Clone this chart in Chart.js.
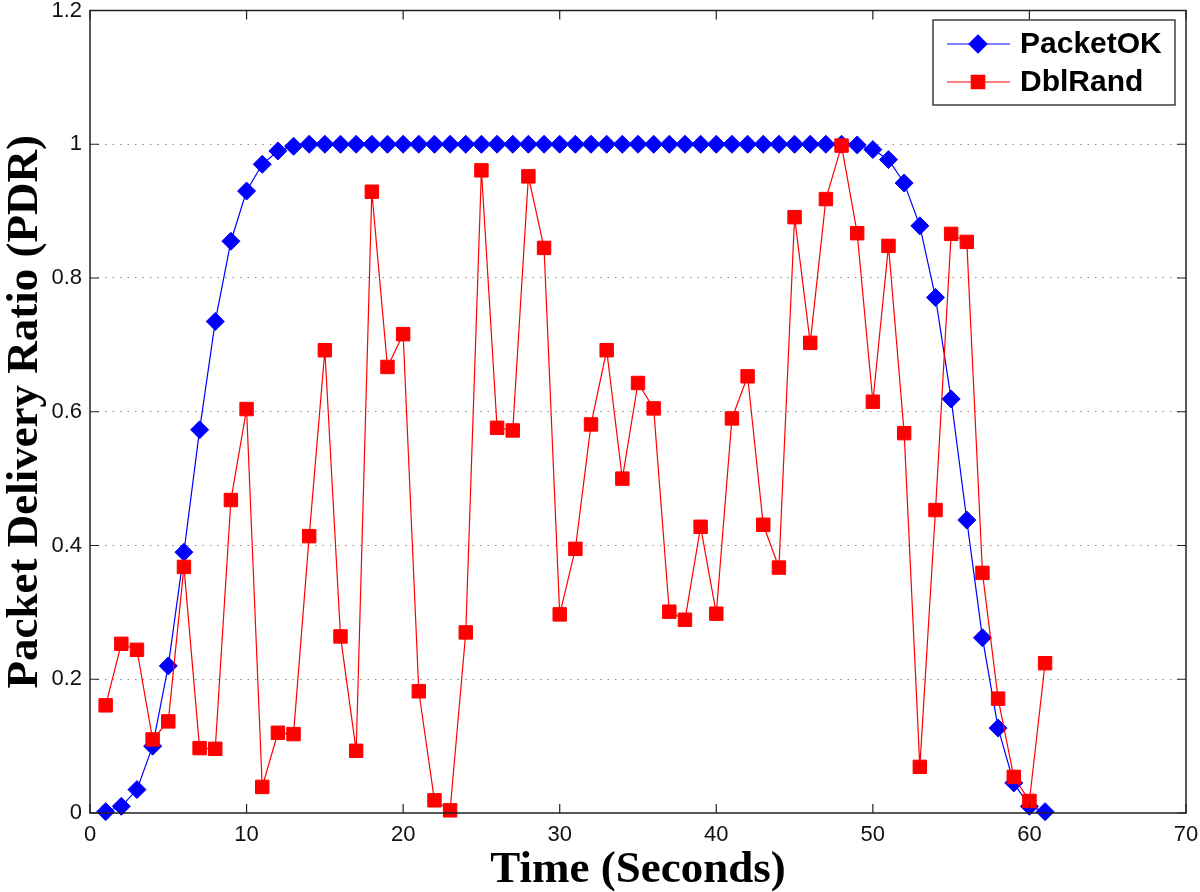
<!DOCTYPE html>
<html lang="en">
<head>
    <meta charset="UTF-8">
    <title>Packet Delivery Ratio</title>
    <script src="https://cdn.jsdelivr.net/npm/chart.js@4.4.1/dist/chart.umd.min.js"></script>
    <style>
        body {
            margin: 0;
            background: #fff;
        }
        canvas {
            display: block;
        }
    </style>
</head>
<body>
    <canvas id="pdrChart" width="1200" height="892"></canvas>

    <script>
        // time in seconds
        const seconds = [1, 2, 3, 4, 5, 6, 7, 8, 9, 10, 11, 12, 13, 14, 15, 16, 17, 18, 19, 20,
            21, 22, 23, 24, 25, 26, 27, 28, 29, 30, 31, 32, 33, 34, 35, 36, 37, 38, 39, 40,
            41, 42, 43, 44, 45, 46, 47, 48, 49, 50, 51, 52, 53, 54, 55, 56, 57, 58, 59, 60, 61];

        const packetOK = [0.002, 0.010, 0.035, 0.100, 0.220, 0.390, 0.573, 0.735, 0.855, 0.930,
            0.970, 0.990, 0.997, 1, 1, 1, 1, 1, 1, 1,
            1, 1, 1, 1, 1, 1, 1, 1, 1, 1,
            1, 1, 1, 1, 1, 1, 1, 1, 1, 1,
            1, 1, 1, 1, 1, 1, 1, 1, 0.999, 0.992,
            0.977, 0.942, 0.878, 0.771, 0.619, 0.438, 0.262, 0.127, 0.045, 0.010, 0.002];

        const dblRand = [0.161, 0.253, 0.244, 0.110, 0.137, 0.368, 0.097, 0.096, 0.468, 0.604,
            0.039, 0.120, 0.118, 0.414, 0.692, 0.264, 0.093, 0.929, 0.667, 0.716,
            0.182, 0.019, 0.004, 0.270, 0.961, 0.576, 0.572, 0.952, 0.845, 0.297,
            0.395, 0.581, 0.692, 0.500, 0.643, 0.605, 0.301, 0.289, 0.428, 0.298,
            0.590, 0.653, 0.431, 0.367, 0.891, 0.703, 0.918, 0.998, 0.867, 0.615,
            0.848, 0.568, 0.069, 0.453, 0.866, 0.854, 0.359, 0.171, 0.054, 0.018, 0.224];

        const xTicks = [0, 10, 20, 30, 40, 50, 60, 70];
        const yTicks = [0, 0.2, 0.4, 0.6, 0.8, 1, 1.2];

        const tickFont = { family: '"Liberation Sans", Arial, sans-serif', size: 22 };

        // matlab style box, inward ticks, axis titles and legend
        const matlabAxes = {
            id: 'matlabAxes',
            afterDraw(chart) {
                const ctx = chart.ctx;
                const area = chart.chartArea;
                const xs = chart.scales.x;
                const ys = chart.scales.y;
                const tickLen = 9;

                ctx.save();
                ctx.strokeStyle = '#222';
                ctx.lineWidth = 1.5;
                ctx.strokeRect(area.left, area.top, area.right - area.left, area.bottom - area.top);

                ctx.lineWidth = 1.2;
                ctx.beginPath();
                xTicks.forEach(v => {
                    const px = xs.getPixelForValue(v);
                    ctx.moveTo(px, area.bottom);
                    ctx.lineTo(px, area.bottom - tickLen);
                    ctx.moveTo(px, area.top);
                    ctx.lineTo(px, area.top + tickLen);
                });
                yTicks.forEach(v => {
                    const py = ys.getPixelForValue(v);
                    ctx.moveTo(area.left, py);
                    ctx.lineTo(area.left + tickLen, py);
                    ctx.moveTo(area.right, py);
                    ctx.lineTo(area.right - tickLen, py);
                });
                ctx.stroke();

                // axis titles
                ctx.fillStyle = '#000';
                ctx.font = 'bold 45px "Liberation Serif", "Times New Roman", serif';
                ctx.textAlign = 'center';
                ctx.textBaseline = 'alphabetic';
                ctx.fillText('Time (Seconds)', (area.left + area.right) / 2, 882);

                ctx.save();
                ctx.translate(37, (area.top + area.bottom) / 2);
                ctx.rotate(-Math.PI / 2);
                ctx.fillText('Packet Delivery Ratio (PDR)', 0, 0);
                ctx.restore();

                // legend
                const box = { left: 933, top: 20, right: 1175, bottom: 105 };
                ctx.fillStyle = '#fff';
                ctx.fillRect(box.left, box.top, box.right - box.left, box.bottom - box.top);
                ctx.strokeStyle = '#222';
                ctx.lineWidth = 1.3;
                ctx.strokeRect(box.left, box.top, box.right - box.left, box.bottom - box.top);

                const rows = [44, 82];
                chart.data.datasets.forEach((ds, i) => {
                    const y = rows[i];
                    ctx.strokeStyle = ds.borderColor;
                    ctx.lineWidth = ds.borderWidth;
                    ctx.beginPath();
                    ctx.moveTo(947, y);
                    ctx.lineTo(1010, y);
                    ctx.stroke();
                    ctx.fillStyle = ds.pointBackgroundColor;
                    ctx.strokeStyle = ds.pointBorderColor;
                    Chart.helpers.drawPoint(ctx, {
                        pointStyle: ds.pointStyle,
                        radius: ds.pointRadius,
                        borderWidth: 1,
                        rotation: 0
                    }, 978, y);
                    ctx.fillStyle = '#000';
                    ctx.font = 'bold 30px "Liberation Sans", Arial, sans-serif';
                    ctx.textAlign = 'left';
                    ctx.textBaseline = 'middle';
                    ctx.fillText(ds.label, 1020, y + 1);
                });
                ctx.restore();
            }
        };

        const ctx = document.getElementById('pdrChart').getContext('2d');
        new Chart(ctx, {
            type: 'line',
            data: {
                labels: seconds,
                datasets: [
                    {
                        label: 'PacketOK',
                        data: seconds.map((s, i) => ({ x: s, y: packetOK[i] })),
                        borderColor: '#0000ff',
                        backgroundColor: '#0000ff',
                        pointBackgroundColor: '#0000ff',
                        pointBorderColor: '#0000ff',
                        pointStyle: 'rectRot',
                        pointRadius: 9,
                        pointBorderWidth: 1,
                        borderWidth: 1.2,
                        tension: 0,
                        fill: false,
                        clip: false,
                        order: 1
                    },
                    {
                        label: 'DblRand',
                        data: seconds.map((s, i) => ({ x: s, y: dblRand[i] })),
                        borderColor: '#ff0000',
                        backgroundColor: '#ff0000',
                        pointBackgroundColor: '#ff0000',
                        pointBorderColor: '#ff0000',
                        pointStyle: 'rect',
                        pointRadius: 9.5,
                        pointBorderWidth: 1,
                        borderWidth: 1.2,
                        tension: 0,
                        fill: false,
                        clip: false,
                        order: 0
                    }
                ]
            },
            options: {
                responsive: false,
                animation: false,
                layout: {
                    padding: { top: 9, right: 14, left: 0, bottom: 0 }
                },
                plugins: {
                    legend: { display: false },
                    tooltip: { enabled: false }
                },
                scales: {
                    x: {
                        type: 'linear',
                        min: 0,
                        max: 70,
                        afterFit: function(scale) {
                            scale.height = 79;
                            scale.paddingLeft = 0;
                            scale.paddingRight = 0;
                        },
                        afterBuildTicks: function(scale) {
                            scale.ticks = xTicks.map(v => ({ value: v }));
                        },
                        grid: { display: false, drawTicks: false },
                        border: { display: false },
                        ticks: {
                            padding: 9,
                            color: '#111',
                            font: tickFont,
                            maxRotation: 0
                        }
                    },
                    y: {
                        type: 'linear',
                        min: 0,
                        max: 1.2,
                        afterFit: function(scale) {
                            scale.width = 90;
                            scale.paddingTop = 0;
                            scale.paddingBottom = 0;
                        },
                        afterBuildTicks: function(scale) {
                            scale.ticks = yTicks.map(v => ({ value: v }));
                        },
                        grid: {
                            drawTicks: false,
                            color: function(c) {
                                const v = c.tick ? c.tick.value : 0;
                                return (v > 0.01 && v < 1.19) ? '#8c8c8c' : 'rgba(0,0,0,0)';
                            },
                            lineWidth: 1
                        },
                        border: { display: false, dash: [1.5, 6] },
                        ticks: {
                            padding: 8,
                            color: '#111',
                            font: tickFont,
                            callback: function(v) {
                                return String(Math.round(v * 10) / 10);
                            }
                        }
                    }
                }
            },
            plugins: [matlabAxes]
        });
    </script>
</body>
</html>
